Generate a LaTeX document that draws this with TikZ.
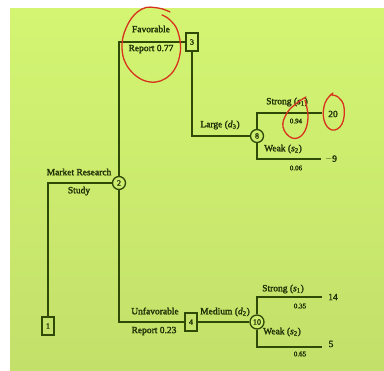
\documentclass[tikz,border=0pt]{standalone}
\usepackage{fontspec}
\setmainfont{Liberation Serif}[FakeBold=2]
\usetikzlibrary{shapes.geometric}
\definecolor{bgtop}{HTML}{D3F572}
\definecolor{bgbot}{HTML}{C3E06A}
\definecolor{ink}{HTML}{2E4A06}
\definecolor{txt}{HTML}{1F3006}
\definecolor{pen}{HTML}{D8321E}
\begin{document}
\begin{tikzpicture}[x=1pt,y=-1pt,
  line/.style={draw=ink,line width=1.7pt},
  dbox/.style={draw=ink,line width=1.3pt,minimum width=12pt,minimum height=18pt,inner sep=0pt,font=\fontsize{8}{9}\selectfont,text=txt},
  chance/.style={circle,draw=ink,line width=1.3pt,fill=bgtop!60!bgbot,minimum size=13pt,inner sep=0pt,font=\fontsize{8}{9}\selectfont,text=txt},
  lbl/.style={inner sep=0pt,font=\fontsize{9.5}{11}\selectfont,text=txt},
  prob/.style={inner sep=0pt,font=\fontsize{7}{8}\selectfont,text=txt},
  redmark/.style={draw=pen,line width=1.3pt,line cap=round,line join=round}]
\useasboundingbox (0,0) rectangle (384,371);
\fill[white] (0,0) rectangle (384,371);
\shade[top color=bgtop,bottom color=bgbot] (10,9) rectangle (384,371);
% decision / chance nodes
\node[dbox] (b1) at (48,326) {1};
\node[chance] (c2) at (119,183) {2};
\node[dbox] (b3) at (192,42) {3};
\node[dbox] (b4) at (191,322) {4};
\node[chance] (c8) at (257,136) {8};
\node[chance,minimum size=14pt] (c10) at (257,322) {10};
% branch ends
\coordinate (e1) at (322,113);
\coordinate (e2) at (321,159);
\coordinate (e3) at (322,297);
\coordinate (e4) at (322,347);
% connectors
\draw[line] (b1) |- (c2);
\draw[line] (c2) |- (b3);
\draw[line] (c2) |- (b4);
\draw[line] (b3) |- (c8);
\draw[line] (b4) -- (c10);
\draw[line] (c8) |- (e1);
\draw[line] (c8) |- (e2);
\draw[line] (c10) |- (e3);
\draw[line] (c10) |- (e4);
% labels
\node[lbl] (mr) at (79,172) {Market Research};
\node[lbl] (st) at (79,191) {Study};
\node[lbl] (fv) at (151,29) {Favorable};
\node[lbl] (r77) at (151,49) {Report 0.77};
\node[lbl] (uf) at (155,311) {Unfavorable};
\node[lbl] (r23) at (154,331) {Report 0.23};
\node[lbl] (lg) at (220,125) {Large (\textit{d}\textsubscript{3})};
\node[lbl] (md) at (225,312) {Medium (\textit{d}\textsubscript{2})};
\node[lbl] (s1a) at (287,102) {Strong (\textit{s}\textsubscript{1})};
\node[prob] (p94) at (296,121) {0.94};
\node[lbl] (w2a) at (283,149) {Weak (\textit{s}\textsubscript{2})};
\node[prob] (p06) at (296,168) {0.06};
\node[lbl] (v20) at (333,114) {20};
\node[lbl] (vm9) at (331,159) {$-$9};
\node[lbl] (s1b) at (283,289) {Strong (\textit{s}\textsubscript{1})};
\node[prob] (p35) at (300,306) {0.35};
\node[lbl] (w2b) at (282,332) {Weak (\textit{s}\textsubscript{2})};
\node[prob] (p65) at (300,354) {0.65};
\node[lbl] (v14) at (333,297) {14};
\node[lbl] (v5) at (331,344) {5};
% red hand-drawn marks
\draw[redmark] plot[smooth,tension=0.7] coordinates {(170,12) (158,8) (142,9) (128,24) (122,48) (130,70) (150,82) (170,75) (180,54) (178,32) (170,20) (162,15)};
\draw[redmark] plot[smooth,tension=0.7] coordinates {(306,97) (297,103) (287,113) (283,127) (292,138) (303,134) (308,118) (305,100)};
\draw[redmark] plot[smooth,tension=0.7] coordinates {(333,93) (325,103) (324,120) (332,130) (342,124) (344,107) (338,97) (330,95)};
\end{tikzpicture}
\end{document}
